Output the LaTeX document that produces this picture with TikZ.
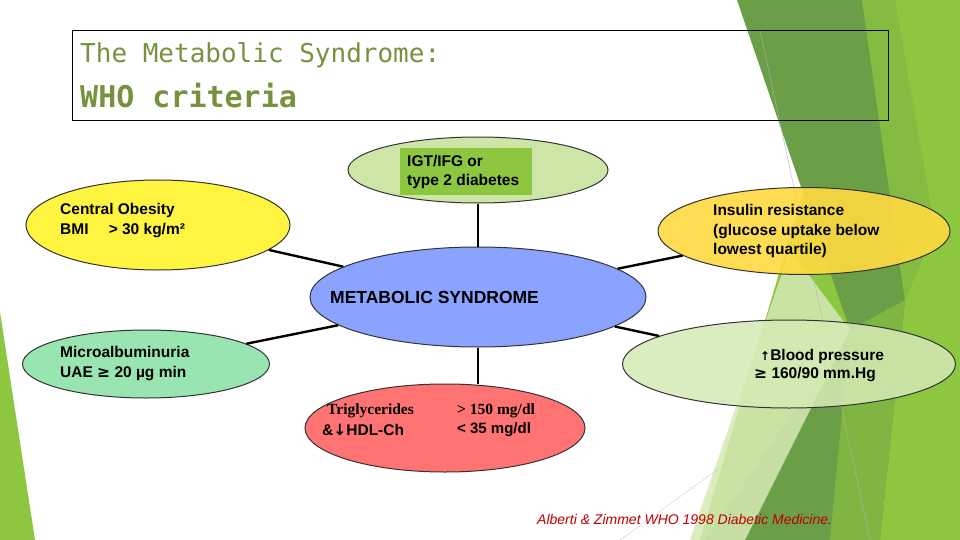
\documentclass[tikz,border=0pt]{standalone}
\usepackage{fontspec}
\setmainfont{Liberation Sans}
\newfontfamily\monof{DejaVu Sans Mono}
\newfontfamily\symf{DejaVu Sans}
\newfontfamily\serf{Liberation Serif}
\usetikzlibrary{shapes.geometric}
\definecolor{titlegreen}{HTML}{76923C}
\definecolor{limeg}{HTML}{8DC63F}
\definecolor{darkg}{HTML}{6A9E47}
\definecolor{paleg}{HTML}{D4EAB4}
\begin{document}
\begin{tikzpicture}[x=1pt,y=-1pt,
  bub/.style={ellipse,draw=black!80,line width=1pt,inner sep=0pt},
  conn/.style={line width=2.4pt,black},
  lbl/.style={font=\bfseries\fontsize{15.5}{19.5}\selectfont,anchor=west,inner sep=0pt,align=left}]
\useasboundingbox (0,0) rectangle (960,540);
% background
\fill[limeg] (0,312) -- (35,540) -- (0,540) -- cycle;
\fill[limeg] (860,0) -- (960,0) -- (960,540) -- (700,540) -- cycle;
\fill[darkg] (737,0) -- (862,0) -- (905,300) -- (880,540) -- (705,540) -- (850,330) -- cycle;
\fill[limeg!75!darkg] (862,0) -- (895,0) -- (935,230) -- (905,300) -- cycle;
\fill[limeg!60!darkg] (850,330) -- (905,300) -- (880,540) -- (830,540) -- cycle;
\fill[paleg,opacity=0.85] (790,250) -- (850,330) -- (745,540) -- (690,540) -- cycle;
\draw[gray!60,line width=0.4pt] (760,30) -- (870,540);
\draw[gray!40,line width=0.4pt] (800,410) -- (620,540);
% title
\node[draw=black,line width=0.6pt,minimum width=816pt,minimum height=90pt,anchor=north west,inner sep=0pt] (tbox) at (72,30) {};
\node[anchor=west,inner sep=0pt,text=titlegreen,font=\monof\fontsize{26}{28}\selectfont] (t1) at (80,55) {The Metabolic Syndrome:};
\node[anchor=west,inner sep=0pt,text=titlegreen,font=\monof\bfseries\fontsize{30}{32}\selectfont] (t2) at (80,96) {WHO criteria};
% bubbles
\node[bub,fill=paleg!90!limeg,minimum width=260pt,minimum height=66pt] (igt) at (478,170) {};
\node[fill=limeg,minimum width=132pt,minimum height=47pt,inner sep=0pt] (igtbox) at (466,171.5) {};
\node[bub,fill=yellow!75!white,minimum width=264pt,minimum height=90pt] (cob) at (158,225) {};
\node[bub,fill=orange!40!yellow!75!white,fill opacity=0.9,minimum width=292pt,minimum height=87pt] (ins) at (804,231) {};
\node[bub,fill=blue!40!white!90!cyan,minimum width=336pt,minimum height=100pt] (met) at (478,297) {};
\node[bub,fill=green!50!teal!40!white,minimum width=247pt,minimum height=68pt] (mic) at (146,364) {};
\node[bub,fill=paleg,fill opacity=0.85,minimum width=333pt,minimum height=88pt] (bp) at (789,364) {};
\node[bub,fill=red!55!white,minimum width=280pt,minimum height=88pt] (tri) at (445,428) {};
% connectors
\draw[conn] (igt) -- (met);
\draw[conn] (cob) -- (met);
\draw[conn] (met) -- (ins);
\draw[conn] (mic) -- (met);
\draw[conn] (met) -- (bp);
\draw[conn] (met.south) -- (met.south |- tri.north);
% labels
\node[lbl] (ligt) at (407,172) {IGT/IFG or\\type 2 diabetes};
\node[lbl] (lcob) at (60,220.5) {Central Obesity\\BMI\hspace{1.3em}> 30 kg/m²};
\node[lbl] (lins) at (713,231) {Insulin resistance\\(glucose uptake below\\lowest quartile)};
\node[lbl,font=\bfseries\fontsize{17.5}{20}\selectfont] (lmet) at (330,297) {METABOLIC SYNDROME};
\node[lbl] (lmic) at (60,363.5) {Microalbuminuria\\UAE {\symf\bfseries≥} 20 µg min};
\node[lbl] (lbp1) at (760,356) {{\symf\bfseries\fontsize{12}{13}\selectfont↑}Blood pressure};
\node[lbl] (lbp2) at (754,375) {{\symf\bfseries≥} 160/90 mm.Hg};
\node[lbl,font=\serf\bfseries\fontsize{15.5}{19}\selectfont] (ltr1) at (327,411) {Triglycerides};
\node[lbl] (ltr2) at (322,430) {\&{\symf\bfseries↓}HDL-Ch};
\node[lbl,font=\serf\bfseries\fontsize{15.5}{19}\selectfont] (ltr3) at (457,411) {> 150 mg/dl};
\node[lbl,font=\bfseries\fontsize{15}{19}\selectfont] (ltr4) at (457,430) {< 35 mg/dl};
\node[anchor=west,inner sep=0pt,text=red!75!black,font=\itshape\fontsize{14}{16}\selectfont] (cite) at (537,519) {Alberti \& Zimmet WHO 1998 Diabetic Medicine.};
\end{tikzpicture}
\end{document}
